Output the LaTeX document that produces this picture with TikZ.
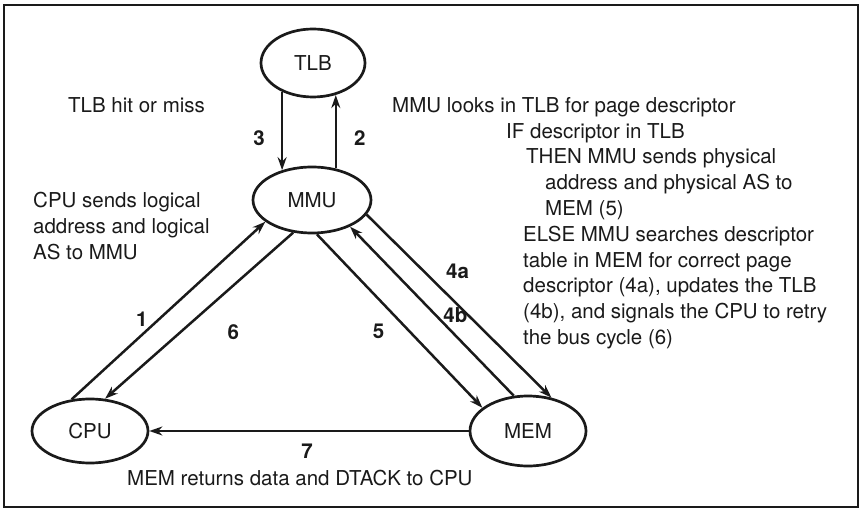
\documentclass[tikz,border=0pt]{standalone}
\usepackage{fontspec}
\setmainfont{TeX Gyre Heros}
\usetikzlibrary{shapes.geometric,arrows.meta}
\definecolor{ink}{HTML}{1A1A1A}

\begin{document}
\begin{tikzpicture}[x=1pt, y=-1pt,
  every node/.style={font=\fontsize{20.5}{25.8}\selectfont, text=ink, inner sep=0pt},
  unit/.style={ellipse, draw=ink, line width=2.7pt, fill=white,
               minimum width=116pt, minimum height=66pt},
  flow/.style={draw=ink, line width=2.5pt, -{Stealth[length=13pt,width=9pt]}},
  num/.style={font=\fontsize{20.5}{25.8}\selectfont\bfseries},
  note/.style={anchor=north west, align=left}
]
  \useasboundingbox (0,0) rectangle (861,510);
  \draw[ink, line width=2.6pt] (4,5) rectangle (858,507);

  \node[unit, minimum width=104pt, minimum height=68pt] (tlb) at (313,63) {TLB};
  \node[unit, minimum width=118pt] (mmu) at (312,200) {MMU};
  \node[unit, minimum height=64pt] (cpu) at (90,431) {CPU};
  \node[unit, minimum height=70pt] (mem) at (528,431) {MEM};

  % TLB <-> MMU
  \draw[flow] (tlb.223) -- node[num, pos=0.59, left=16pt] {3} (tlb.223 |- mmu.135);
  \draw[flow] (mmu.53) -- node[num, pos=0.42, right=17pt] {2} (mmu.53 |- tlb.305);

  % CPU <-> MMU
  \draw[flow] (cpu.120) -- node[num, pos=0.45, left=10pt] {1} (mmu.205);
  \draw[flow] (mmu.240) -- node[num, pos=0.6, right=46pt] {6} (cpu.65);

  % MMU <-> MEM
  \draw[flow] (mmu.278) -- node[num, pos=0.56, left=24pt] {5} (mem.153);
  \draw[flow] (mem.112) -- node[num, pos=0.474, right=6pt] {4b} (mmu.325);
  \draw[flow] (mmu.345) -- node[num, pos=0.31, right=21pt] {4a} (mem.55);

  % MEM -> CPU
  \draw[flow] (mem.west) -- node[num, pos=0.506, below=12pt] {7} (cpu.east);

  \node[note] (hit) at (68,97) {TLB hit or miss};
  \node[note] (look) at (392,97) {MMU looks in TLB for page descriptor\\
    \hspace*{114pt}IF descriptor in TLB\\
    \hspace*{134pt}THEN MMU sends physical\\
    \hspace*{153pt}address and physical AS to\\
    \hspace*{153pt}MEM (5)\\
    \hspace*{131pt}ELSE MMU searches descriptor\\
    \hspace*{131pt}table in MEM for correct page\\
    \hspace*{131pt}descriptor (4a), updates the TLB\\
    \hspace*{131pt}(4b), and signals the CPU to retry\\
    \hspace*{131pt}the bus cycle (6)};
  \node[note] (send) at (33,192) {CPU sends logical\\ address and logical\\ AS to MMU};
  \node[note] (ret) at (127,470) {MEM returns data and DTACK to CPU};
\end{tikzpicture}
\end{document}
